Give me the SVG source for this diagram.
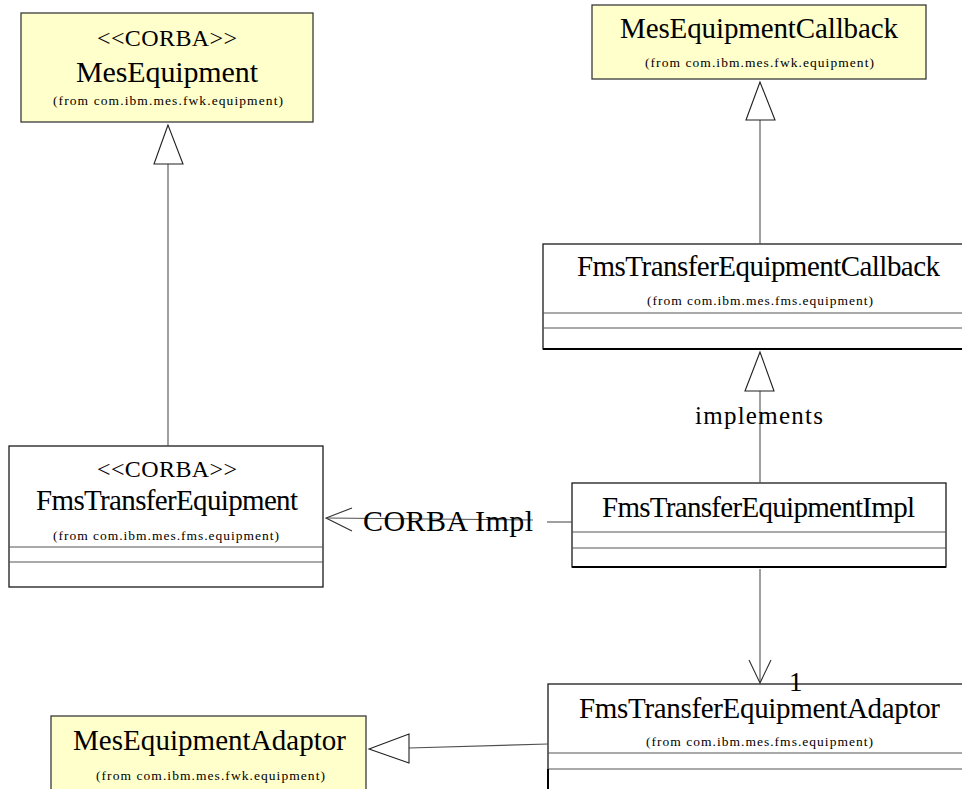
<svg xmlns="http://www.w3.org/2000/svg" width="962" height="789" viewBox="0 0 962 789">
  <defs>
    <style>
      .bg { fill: #ffffff; }
      .iface { fill: #ffffcc; stroke: #3a3a3a; stroke-width: 1.3; }
      .cls { fill: #ffffff; stroke: #1a1a1a; stroke-width: 1.3; }
      .sep { stroke: #555555; stroke-width: 1.2; fill: none; }
      .name { font-family: "Liberation Serif", "Times New Roman", serif; font-size: 29px; fill: #000; text-anchor: middle; }
      .stereo { font-family: "Liberation Serif", "Times New Roman", serif; font-size: 24px; fill: #000; text-anchor: middle; }
      .pkg { font-family: "Liberation Serif", "Times New Roman", serif; font-size: 13.5px; fill: #000; text-anchor: middle; }
      .lbl { font-family: "Liberation Serif", "Times New Roman", serif; font-size: 25px; fill: #000; }
      .big { font-size: 30px; }
      .edge { stroke: #505050; stroke-width: 1.1; fill: none; }
      .tri { stroke: #202020; stroke-width: 1.1; fill: #ffffff; }
      .open { stroke: #303030; stroke-width: 1.1; fill: none; }
    </style>
  </defs>

  <rect class="bg" x="0" y="0" width="962" height="789"/>

  <!-- MesEquipment -->
  <g id="MesEquipment">
    <rect class="iface" x="21" y="13" width="292" height="109"/>
    <text class="stereo" x="167" y="46" textLength="140" lengthAdjust="spacing">&lt;&lt;CORBA&gt;&gt;</text>
    <text class="name big" x="167" y="82" textLength="182" lengthAdjust="spacing">MesEquipment</text>
    <text class="pkg" x="168" y="105" textLength="230" lengthAdjust="spacing">(from com.ibm.mes.fwk.equipment)</text>
  </g>

  <!-- MesEquipmentCallback -->
  <g id="MesEquipmentCallback">
    <rect class="iface" x="592" y="5" width="334" height="74"/>
    <text class="name" x="759" y="38" textLength="278" lengthAdjust="spacing">MesEquipmentCallback</text>
    <text class="pkg" x="759.5" y="67" textLength="229" lengthAdjust="spacing">(from com.ibm.mes.fwk.equipment)</text>
  </g>

  <!-- FmsTransferEquipmentCallback -->
  <g id="FmsTransferEquipmentCallback">
    <rect class="cls" x="543" y="244" width="434" height="105"/>
    <line class="sep" x1="543" y1="313" x2="977" y2="313"/>
    <line class="sep" x1="543" y1="328" x2="977" y2="328"/>
    <line stroke="#000" stroke-width="2" x1="543" y1="349" x2="977" y2="349"/>
    <text class="name" x="758.5" y="276" textLength="363" lengthAdjust="spacing">FmsTransferEquipmentCallback</text>
    <text class="pkg" x="760" y="305" textLength="226" lengthAdjust="spacing">(from com.ibm.mes.fms.equipment)</text>
  </g>

  <!-- FmsTransferEquipment -->
  <g id="FmsTransferEquipment">
    <rect class="cls" x="9" y="446" width="314" height="141"/>
    <line class="sep" x1="9" y1="547" x2="323" y2="547"/>
    <line class="sep" x1="9" y1="562" x2="323" y2="562"/>
    <text class="stereo" x="167" y="477" textLength="140" lengthAdjust="spacing">&lt;&lt;CORBA&gt;&gt;</text>
    <text class="name" x="167" y="510" textLength="262" lengthAdjust="spacing">FmsTransferEquipment</text>
    <text class="pkg" x="166" y="540" textLength="226" lengthAdjust="spacing">(from com.ibm.mes.fms.equipment)</text>
  </g>

  <!-- FmsTransferEquipmentImpl -->
  <g id="FmsTransferEquipmentImpl">
    <rect class="cls" x="572" y="483" width="374" height="84"/>
    <line class="sep" x1="572" y1="532" x2="946" y2="532"/>
    <line class="sep" x1="572" y1="548" x2="946" y2="548"/>
    <line stroke="#000" stroke-width="2" x1="572" y1="567" x2="946" y2="567"/>
    <text class="name" x="758.5" y="517" textLength="313" lengthAdjust="spacing">FmsTransferEquipmentImpl</text>
  </g>

  <!-- FmsTransferEquipmentAdaptor -->
  <g id="FmsTransferEquipmentAdaptor">
    <rect class="cls" x="548" y="684" width="429" height="120"/>
    <line class="sep" x1="548" y1="753" x2="977" y2="753"/>
    <line class="sep" x1="548" y1="769" x2="977" y2="769"/>
    <line stroke="#000" stroke-width="2" x1="548" y1="769" x2="548" y2="789"/>
    <text class="name" x="759.5" y="718" textLength="361" lengthAdjust="spacing">FmsTransferEquipmentAdaptor</text>
    <text class="pkg" x="759.5" y="746" textLength="227" lengthAdjust="spacing">(from com.ibm.mes.fms.equipment)</text>
  </g>

  <!-- MesEquipmentAdaptor -->
  <g id="MesEquipmentAdaptor">
    <rect class="iface" x="51" y="716" width="315" height="90"/>
    <text class="name" x="209.5" y="750" textLength="273" lengthAdjust="spacing">MesEquipmentAdaptor</text>
    <text class="pkg" x="210.5" y="780" textLength="229" lengthAdjust="spacing">(from com.ibm.mes.fwk.equipment)</text>
  </g>

  <!-- connectors, drawn over the boxes -->
  <g id="connectors">
    <!-- FmsTransferEquipment generalizes MesEquipment -->
    <line class="edge" x1="168" y1="446" x2="168" y2="164"/>
    <polygon class="tri" points="168,125 154,164 183,164"/>

    <!-- FmsTransferEquipmentCallback generalizes MesEquipmentCallback -->
    <line class="edge" x1="760" y1="244" x2="760" y2="120"/>
    <polygon class="tri" points="760,82 746,120 775,120"/>

    <!-- implements -->
    <line class="edge" x1="760" y1="483" x2="760" y2="391"/>
    <polygon class="tri" points="760,352 745,391 774,391"/>
    <text class="lbl" x="695" y="424" textLength="128" lengthAdjust="spacing">implements</text>

    <!-- CORBA Impl dependency -->
    <line class="edge" x1="572" y1="522" x2="547" y2="522"/>
    <line class="edge" x1="533" y1="520" x2="327" y2="518"/>
    <polyline class="open" points="352,508 326,518 352,531"/>
    <text class="lbl big" x="363" y="531" textLength="170" lengthAdjust="spacing">CORBA Impl</text>

    <!-- association Impl -> Adaptor -->
    <line class="edge" x1="760" y1="569" x2="760" y2="683"/>
    <polyline class="open" points="749,660 760,683 771,660"/>
    <text class="lbl" x="789" y="691" style="font-size:27px">1</text>

    <!-- FmsTransferEquipmentAdaptor generalizes MesEquipmentAdaptor -->
    <line class="edge" x1="548" y1="744" x2="409" y2="748"/>
    <polygon class="tri" points="369,749 409,734 409,763"/>
  </g>
</svg>
